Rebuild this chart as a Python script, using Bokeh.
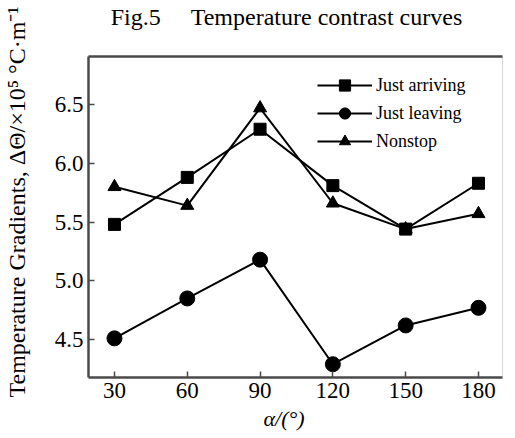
from bokeh.plotting import figure
from bokeh.models import Range1d, FixedTicker, LinearAxis, Legend, Title
from bokeh.embed import file_html
from bokeh.resources import INLINE

# Rotation angle (degrees) and temperature gradients for three passage states
angles = [30, 60, 90, 120, 150, 180]
just_arriving = [5.48, 5.88, 6.29, 5.81, 5.44, 5.83]
just_leaving = [4.51, 4.85, 5.18, 4.29, 4.62, 4.77]
nonstop = [5.80, 5.64, 6.47, 5.66, 5.44, 5.57]

x_ticks = [30, 60, 90, 120, 150, 180]
y_ticks = [4.5, 5.0, 5.5, 6.0, 6.5]
y_tick_labels = ["4.5", "5.0", "5.5", "6.0", "6.5"]

NBSP = "\u00a0"
title_text = "Fig.5 " + NBSP * 4 + "Temperature contrast curves"
x_label = "\u03b1/(\u00b0)"
y_label = "Temperature Gradients, \u0394\u0398/\u00d710\u2075 \u00b0C\u00b7m\u207b\u00b9"

SERIF = "Liberation Serif"
AXIS_COLOR = "#4a4a4a"

p = figure(
    width=515, height=438,
    output_backend="svg", toolbar_location=None,
    x_range=Range1d(19.3, 189.9), y_range=Range1d(4.177, 6.909),
    min_border_left=88, min_border_right=13,
    min_border_top=56, min_border_bottom=61,
    background_fill_color="white", border_fill_color="white",
)
p.outline_line_color = "#d8d8d8"
p.outline_line_width = 1
p.xgrid.visible = False
p.ygrid.visible = False

for ax in (p.xaxis[0], p.yaxis[0]):
    ax.axis_line_color = AXIS_COLOR
    ax.axis_line_width = 2.5
    ax.major_tick_line_color = AXIS_COLOR
    ax.major_tick_line_width = 1.5
    ax.major_tick_in = 6
    ax.major_tick_out = 0
    ax.minor_tick_line_color = None
    ax.major_label_text_font = SERIF
    ax.major_label_text_font_size = "23px"
    ax.major_label_text_color = "black"

p.xaxis[0].ticker = FixedTicker(ticks=x_ticks)
p.yaxis[0].ticker = FixedTicker(ticks=y_ticks)
p.yaxis[0].major_label_overrides = {t: s for t, s in zip(y_ticks, y_tick_labels)}
p.xaxis[0].major_label_standoff = 5
p.yaxis[0].major_label_standoff = 5

# y-axis title, pushed toward the lower end of the axis by leading spaces
yax = p.yaxis[0]
yax.axis_label = NBSP * 5 + y_label
yax.axis_label_standoff = 22
yax.axis_label_text_font = SERIF
yax.axis_label_text_font_size = "24px"
yax.axis_label_text_font_style = "normal"
yax.axis_label_text_color = "black"

# Top border of the frame, carrying the figure caption
top = LinearAxis(
    axis_line_color=AXIS_COLOR, axis_line_width=2.5,
    major_tick_in=0, major_tick_out=0, minor_tick_line_color=None,
    major_label_text_font_size="0px", ticker=FixedTicker(ticks=[]),
    axis_label=title_text + NBSP * 3, axis_label_standoff=27,
    axis_label_text_font=SERIF, axis_label_text_font_size="24px",
    axis_label_text_font_style="normal", axis_label_text_color="black",
)
p.add_layout(top, "above")

LINE_W = 2
r1l = p.line(angles, just_arriving, line_color="black", line_width=LINE_W)
r1m = p.scatter(angles, just_arriving, marker="square", size=12, color="black")
r2l = p.line(angles, just_leaving, line_color="black", line_width=LINE_W)
r2m = p.scatter(angles, just_leaving, marker="circle", size=15, color="black")
r3l = p.line(angles, nonstop, line_color="black", line_width=LINE_W)
r3m = p.scatter(angles, nonstop, marker="triangle", size=13, color="black")

legend = Legend(
    items=[
        ("Just arriving", [r1l, r1m]),
        ("Just leaving", [r2l, r2m]),
        ("Nonstop", [r3l, r3m]),
    ],
    location=(229, 222),
    padding=0, margin=0, spacing=0,
    glyph_width=55, glyph_height=28, label_height=28,
    label_standoff=4,
    label_text_font=SERIF, label_text_font_size="18px", label_text_color="black",
    background_fill_alpha=0, border_line_color=None,
)
p.add_layout(legend, "center")

# x-axis title
p.add_layout(Title(
    text=x_label, align="left", offset=175, standoff=6,
    text_font=SERIF, text_font_size="22px", text_font_style="italic",
    text_color="black",
), "below")

open("out.html", "w").write(file_html(p, INLINE))
